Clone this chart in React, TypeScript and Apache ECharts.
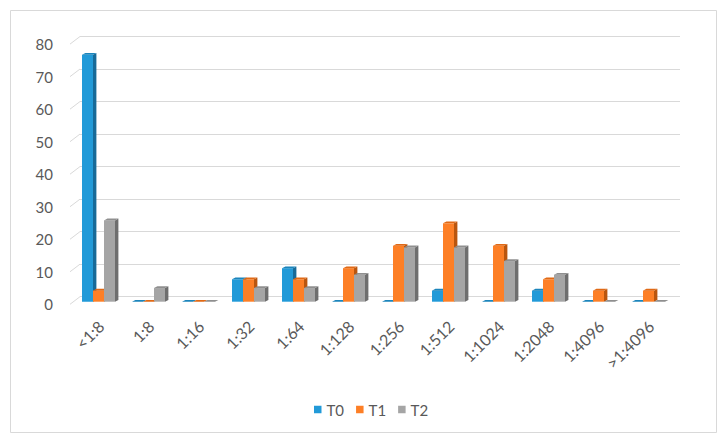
import React, { useEffect, useRef } from "react";
import * as echarts from "echarts";

const categories = ["<1:8", "1:8", "1:16", "1:32", "1:64", "1:128", "1:256", "1:512", "1:1024", "1:2048", "1:4096", ">1:4096"];
const seriesNames = ["T0", "T1", "T2"];
const t0Values = [75.9, 0, 0, 6.9, 10.3, 0, 0, 3.4, 0, 3.4, 0, 0];
const t1Values = [3.4, 0, 0, 6.9, 6.9, 10.3, 17.2, 24.1, 17.2, 6.9, 3.4, 3.4];
const t2Values = [25, 4.2, 0, 4.2, 4.2, 8.3, 16.7, 16.7, 12.5, 8.3, 0, 0];
const yTicks = [0, 10, 20, 30, 40, 50, 60, 70, 80];

const FRONT = ["#229ad8", "#fd7f26", "#a5a5a5"];
const TOPC = ["#1b84bb", "#e06915", "#8f8f8f"];
const SIDE = ["#176a98", "#b9560f", "#6e6e6e"];

const FDX = -6.5;
const FDY = 5;
const DDX = 3.4;
const DDY = -1.8;
const TEXT = "#595959";
const GRIDC = "#d9d9d9";
const FONT = "Lato";
const FS = 15;

function barSeries(name: string, values: number[], s: number) {
  return {
    type: "custom",
    name,
    xAxisIndex: 0,
    yAxisIndex: 0,
    z: 2 + s,
    itemStyle: { color: FRONT[s] },
    data: values.map((v, i) => [i, v]),
    renderItem: (params: any, api: any) => {
      const idx = api.value(0);
      const v = api.value(1);
      const base = api.coord([idx, 0]);
      const top = api.coord([idx, v]);
      const band = api.size([1, 0])[0];
      const barW = band * 0.22;
      const xl = base[0] + (s - 1) * barW - barW / 2 + FDX;
      const xr = xl + barW;
      const y0 = base[1] + FDY;
      const y1 = top[1] + FDY;
      return {
        type: "group",
        children: [
          {
            type: "polygon",
            shape: { points: [[xr, y1], [xr + DDX, y1 + DDY], [xr + DDX, y0 + DDY], [xr, y0]] },
            style: { fill: SIDE[s] },
          },
          {
            type: "rect",
            shape: { x: xl, y: y1, width: barW, height: y0 - y1 },
            style: { fill: FRONT[s] },
          },
          {
            type: "polygon",
            shape: { points: [[xl, y1], [xl + DDX, y1 + DDY], [xr + DDX, y1 + DDY], [xr, y1]] },
            style: { fill: TOPC[s] },
          },
        ],
      };
    },
  };
}

export default function App() {
  const ref = useRef<HTMLDivElement>(null);
  useEffect(() => {
    if (!ref.current) return;
    const chart = echarts.init(ref.current, undefined, { renderer: "svg" });
    const option: any = {
      animation: false,
      backgroundColor: "#ffffff",
      textStyle: { fontFamily: FONT },
      graphic: [
        {
          type: "rect",
          shape: { x: 10.5, y: 10.5, width: 706, height: 422 },
          style: { fill: "none", stroke: GRIDC, lineWidth: 1 },
          silent: true,
        },
      ],
      legend: {
        data: seriesNames,
        icon: "rect",
        itemWidth: 7.5,
        itemHeight: 7.5,
        itemGap: 12,
        left: 309,
        top: 396,
        textStyle: { color: TEXT, fontSize: FS, fontFamily: FONT, lineHeight: 17 },
      },
      grid: [
        { left: 80, right: 45, top: 36.5, bottom: 145.3 },
        { left: 70, right: 55, top: 44.1, bottom: 137.7 },
        { left: 76, right: 49, top: 44.1, bottom: 137.7 },
      ],
      xAxis: [
        {
          type: "category",
          gridIndex: 0,
          data: categories,
          axisLine: { show: false },
          axisTick: { show: false },
          axisLabel: { show: false },
        },
        {
          type: "category",
          gridIndex: 1,
          data: categories,
          axisLine: { show: false },
          axisTick: { show: false },
          axisLabel: { show: false },
        },
        {
          type: "category",
          gridIndex: 2,
          data: categories,
          axisLine: { show: false },
          axisTick: { show: false },
          axisLabel: {
            rotate: 45,
            margin: 19,
            interval: 0,
            color: TEXT,
            fontSize: 16,
            fontFamily: FONT,
          },
        },
      ],
      yAxis: [
        {
          type: "value",
          gridIndex: 0,
          min: 0,
          max: 80,
          interval: 10,
          axisLine: { show: false },
          axisTick: { show: false },
          axisLabel: { show: false },
          splitLine: { show: true, lineStyle: { color: GRIDC, width: 1 } },
        },
        {
          type: "value",
          gridIndex: 1,
          min: 0,
          max: 80,
          interval: 10,
          axisLine: { show: false },
          axisTick: { show: false },
          splitLine: { show: false },
          axisLabel: { margin: 17, color: TEXT, fontSize: FS, fontFamily: FONT },
        },
        {
          type: "value",
          gridIndex: 2,
          min: 0,
          max: 80,
          interval: 10,
          show: false,
        },
      ],
      series: [
        {
          type: "custom",
          name: "gridSide",
          xAxisIndex: 0,
          yAxisIndex: 0,
          silent: true,
          z: 1,
          data: yTicks.map((v) => [0, v]),
          renderItem: (params: any, api: any) => {
            const c = api.coord([0, api.value(1)]);
            const band = api.size([1, 0])[0];
            const left = c[0] - band / 2;
            return {
              type: "line",
              shape: { x1: left - 10, y1: c[1] + 7.6, x2: left, y2: c[1] },
              style: { stroke: GRIDC, lineWidth: 1 },
            };
          },
        },
        barSeries("T0", t0Values, 0),
        barSeries("T1", t1Values, 1),
        barSeries("T2", t2Values, 2),
      ],
    };
    chart.setOption(option);
    return () => chart.dispose();
  }, []);
  return (
    <div
      ref={ref}
      style={{ position: "fixed", left: 0, top: 0, width: 725, height: 442 }}
    />
  );
}
